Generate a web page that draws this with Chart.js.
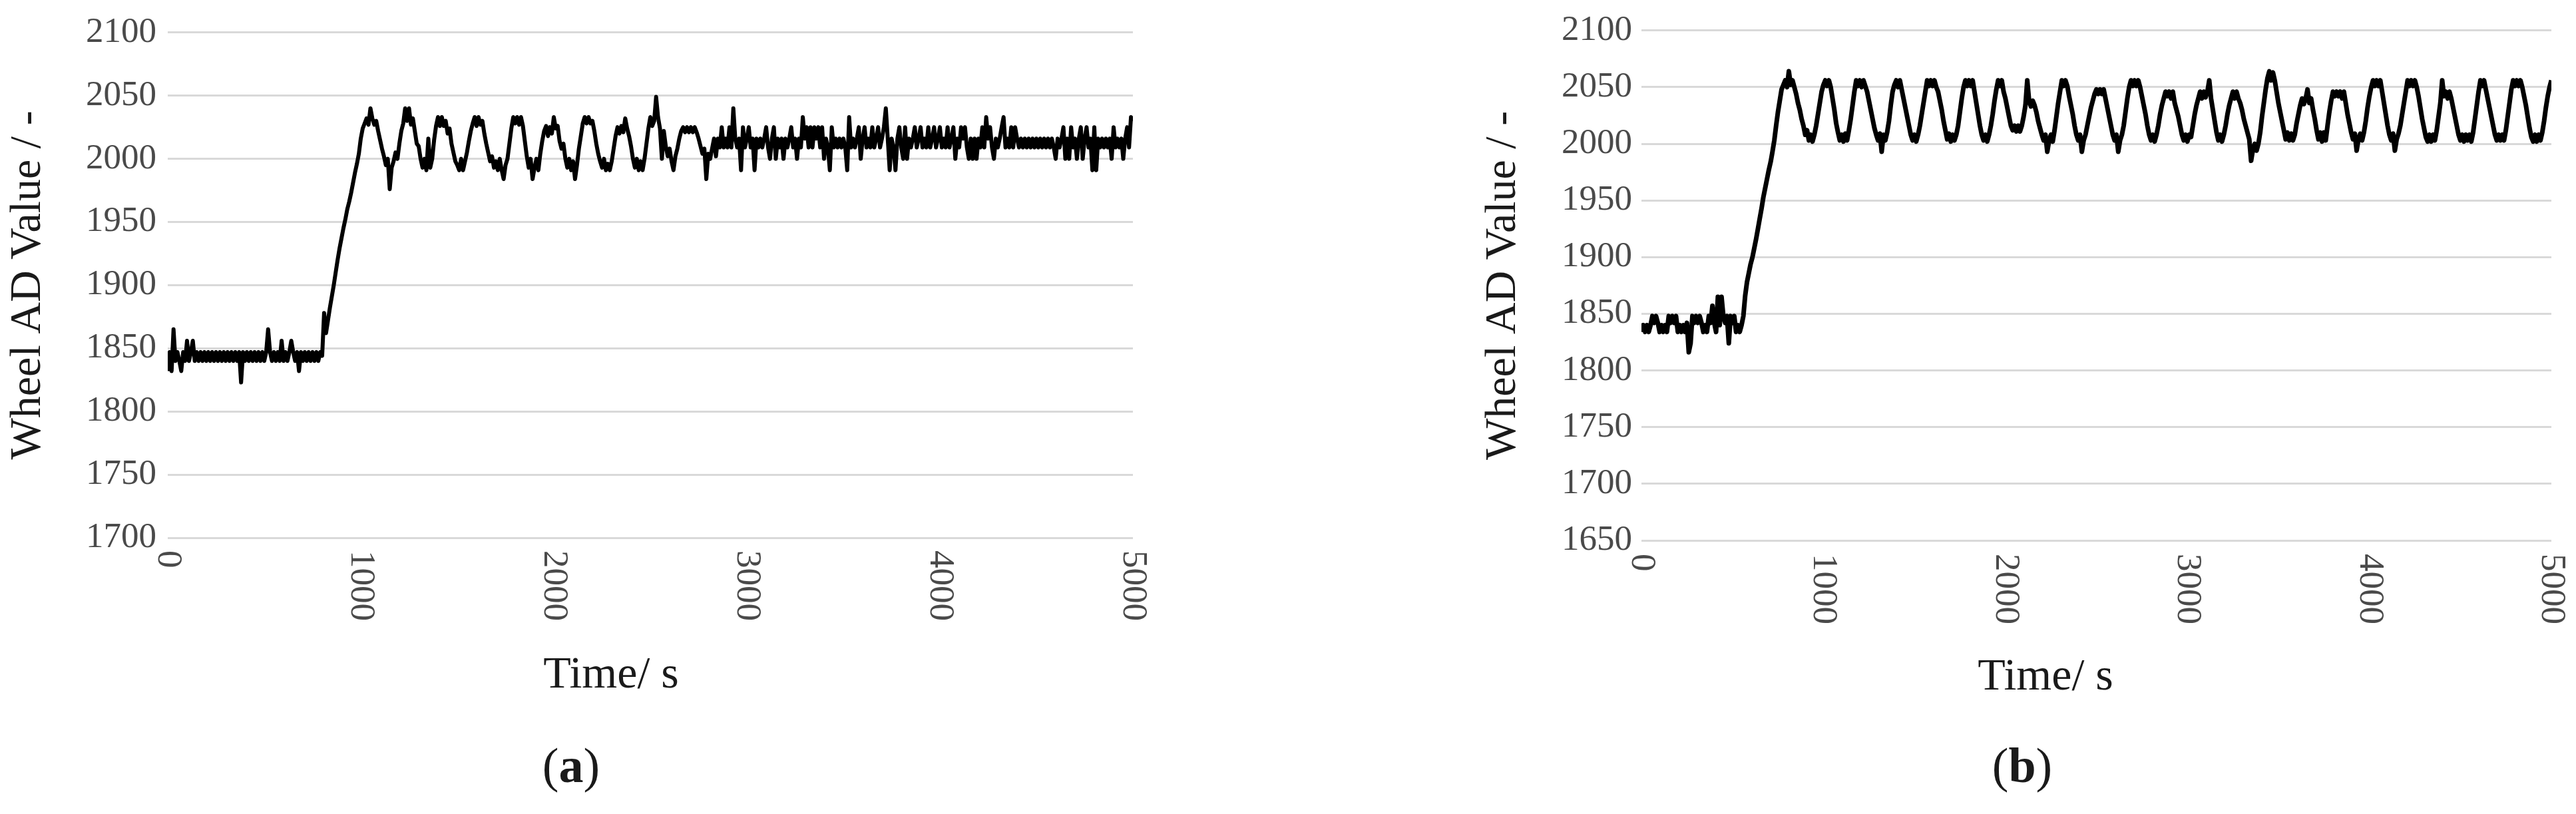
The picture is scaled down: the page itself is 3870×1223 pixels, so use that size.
<!DOCTYPE html>
<html>
<head>
<meta charset="utf-8">
<script src="https://cdn.jsdelivr.net/npm/chart.js@4.4.1/dist/chart.umd.min.js"></script>
<style>
  html, body { margin: 0; padding: 0; background: #fff; }
  body { width: 3870px; height: 1223px; position: relative; overflow: hidden; }
  .panel { position: absolute; top: 0; width: 1935px; height: 1223px; }
  #panelA { left: 0; }
  #panelB { left: 1935px; }
</style>
</head>
<body>
<div class="panel" id="panelA"><canvas id="chartA" width="1935" height="1223"></canvas></div>
<div class="panel" id="panelB"><canvas id="chartB" width="1935" height="1223"></canvas></div>
<script>
// logged wheel AD readings, one value every sampleStep seconds (0 .. 5000 s)
const sampleStep = 10;
const timeTicks = [0, 1000, 2000, 3000, 4000, 5000];
const adTicksA = [1700, 1750, 1800, 1850, 1900, 1950, 2000, 2050, 2100];
const adTicksB = [1650, 1700, 1750, 1800, 1850, 1900, 1950, 2000, 2050, 2100];

// (a)
const wheelA = [
  1832,1847,1832,1865,1840,1847,1840,1832,1847,1840,
  1856,1840,1847,1856,1840,1847,1840,1847,1840,1847,
  1840,1847,1840,1847,1840,1847,1840,1847,1840,1847,
  1840,1847,1840,1847,1840,1847,1840,1847,1823,1847,
  1840,1847,1840,1847,1840,1847,1840,1847,1840,1847,
  1840,1847,1865,1847,1840,1847,1840,1847,1840,1856,
  1840,1847,1840,1847,1856,1847,1840,1847,1832,1847,
  1840,1847,1840,1847,1840,1847,1840,1847,1840,1847,
  1844,1878,1862,1872,1882,1891,1900,1910,1920,1929,
  1937,1945,1952,1960,1966,1973,1981,1989,1996,2004,
  2016,2024,2028,2032,2027,2040,2032,2027,2030,2022,
  2015,2008,2002,1995,2000,1976,1993,1998,2005,2000,
  2012,2022,2028,2040,2030,2040,2027,2032,2022,2012,
  2010,2000,1993,2000,1991,2016,1993,2000,2015,2026,
  2033,2026,2033,2026,2030,2020,2024,2012,2005,1998,
  1995,1991,2000,1991,1998,2005,2014,2022,2028,2033,
  2026,2033,2027,2030,2020,2012,2005,1998,2002,1993,
  1998,1991,2000,1991,1984,1995,2000,2012,2024,2033,
  2028,2033,2027,2033,2026,2014,2002,1993,2000,1984,
  1993,2000,1991,2004,2014,2022,2026,2018,2025,2020,
  2033,2024,2026,2014,2008,2012,2000,1993,2000,1991,
  1998,1984,1995,2008,2018,2028,2033,2028,2033,2028,
  2030,2022,2012,2004,1998,1993,2000,1991,1996,1991,
  1998,2008,2018,2025,2020,2026,2021,2032,2024,2018,
  2010,2000,1993,2000,1991,1998,1991,2000,2012,2024,
  2033,2026,2030,2049,2033,2024,2000,2022,2010,2002,
  2008,1998,1991,2002,2008,2016,2022,2025,2021,2025,
  2021,2025,2021,2025,2021,2016,2010,2004,2008,1984,
  2004,2000,2008,2016,2002,2016,2009,2025,2009,2016,
  2009,2025,2009,2040,2016,2009,2016,1991,2025,2009,
  2016,2025,2009,2016,1991,2016,2009,2016,2009,2016,
  2025,2009,2000,2016,2025,2000,2016,2009,2016,2000,
  2016,2009,2016,2025,2009,2016,2000,2016,2009,2033,
  2016,2025,2009,2025,2009,2025,2016,2025,2009,2025,
  2000,2016,2009,1991,2025,2009,2016,2009,2016,2009,
  2016,2009,1991,2033,2009,2016,2009,2016,2025,2000,
  2016,2025,2009,2016,2009,2025,2009,2016,2025,2009,
  2016,2025,2040,2016,1991,2016,2009,1991,2016,2025,
  2009,2000,2025,2000,2016,2009,2016,2025,2009,2016,
  2025,2009,2016,2009,2025,2009,2016,2025,2009,2016,
  2025,2009,2016,2009,2025,2009,2016,2025,2000,2016,
  2009,2025,2016,2025,2009,2000,2016,2000,2016,2000,
  2016,2009,2025,2009,2033,2016,2025,2009,2000,2016,
  2009,2016,2025,2033,2009,2016,2009,2025,2009,2025,
  2016,2009,2016,2009,2016,2009,2016,2009,2016,2009,
  2016,2009,2016,2009,2016,2009,2016,2009,2016,2009,
  2000,2016,2009,2016,2025,2000,2016,2000,2025,2009,
  2016,2000,2016,2025,2000,2016,2025,2009,2016,1991,
  2025,1991,2016,2009,2016,2009,2016,2009,2016,2000,
  2025,2009,2016,2009,2016,2000,2016,2025,2009,2033,
  2030
];

// (b)
const wheelB = [
  1834,1840,1834,1840,1834,1840,1848,1842,1848,1842,
  1834,1840,1834,1840,1834,1848,1842,1848,1842,1848,
  1834,1840,1834,1840,1834,1842,1816,1824,1848,1842,
  1848,1842,1848,1842,1834,1840,1834,1848,1842,1857,
  1842,1834,1865,1840,1865,1848,1842,1848,1824,1848,
  1842,1848,1834,1840,1834,1840,1848,1866,1878,1886,
  1894,1900,1908,1916,1925,1934,1943,1953,1961,1969,
  1977,1984,1993,2003,2016,2028,2038,2048,2052,2056,
  2050,2064,2052,2056,2050,2044,2036,2030,2022,2016,
  2008,2012,2003,2008,2002,2008,2016,2026,2036,2046,
  2052,2056,2051,2056,2050,2040,2030,2018,2010,2003,
  2008,2002,2009,2003,2012,2022,2034,2046,2056,2051,
  2056,2050,2056,2051,2046,2038,2030,2022,2014,2008,
  2003,2009,1993,2008,2003,2010,2020,2034,2046,2052,
  2056,2050,2056,2048,2040,2032,2024,2016,2008,2003,
  2008,2002,2008,2016,2026,2036,2046,2056,2051,2056,
  2051,2056,2050,2046,2038,2030,2020,2012,2004,2009,
  2002,2008,2003,2008,2016,2028,2040,2050,2056,2051,
  2056,2051,2056,2046,2036,2026,2016,2008,2003,2008,
  2002,2008,2016,2026,2038,2048,2056,2051,2056,2046,
  2040,2032,2024,2016,2012,2016,2011,2016,2011,2016,
  2024,2034,2056,2038,2033,2038,2034,2028,2020,2014,
  2008,2003,2008,1993,2003,2008,2002,2012,2024,2036,
  2046,2056,2051,2056,2051,2042,2034,2026,2016,2008,
  2003,2008,1993,2003,2008,2016,2024,2032,2038,2044,
  2048,2044,2048,2044,2048,2040,2032,2024,2016,2008,
  2003,2008,1993,2003,2008,2016,2028,2040,2050,2056,
  2051,2056,2051,2056,2050,2042,2034,2026,2016,2008,
  2003,2008,2002,2008,2016,2026,2034,2040,2046,2042,
  2046,2040,2046,2036,2030,2024,2016,2008,2003,2008,
  2002,2008,2006,2016,2026,2034,2040,2046,2040,2046,
  2041,2046,2056,2040,2030,2020,2010,2003,2008,2002,
  2008,2016,2026,2034,2040,2046,2040,2046,2040,2036,
  2030,2022,2016,2010,2004,1985,1995,2000,1994,2000,
  2010,2024,2036,2048,2058,2064,2056,2063,2056,2046,
  2036,2028,2020,2012,2004,2010,2003,2009,2003,2008,
  2018,2026,2034,2040,2035,2040,2048,2036,2040,2030,
  2022,2012,2004,2010,2002,2010,2003,2016,2028,2038,
  2046,2042,2046,2042,2046,2040,2046,2036,2026,2018,
  2010,2004,2009,1994,2004,2009,2003,2010,2020,2032,
  2042,2050,2056,2051,2056,2051,2056,2046,2036,2026,
  2016,2008,2003,2009,1994,2004,2009,2016,2026,2036,
  2046,2056,2051,2056,2051,2056,2050,2042,2032,2022,
  2014,2006,2002,2008,2002,2008,2003,2012,2024,2036,
  2056,2042,2046,2040,2046,2040,2032,2024,2016,2008,
  2003,2008,2002,2008,2003,2008,2002,2010,2022,2034,
  2046,2056,2051,2056,2048,2040,2032,2024,2016,2008,
  2003,2008,2003,2008,2003,2012,2024,2036,2048,2056,
  2051,2056,2051,2056,2050,2042,2034,2024,2014,2006,
  2002,2008,2002,2008,2003,2010,2020,2032,2042,2050,
  2056
];

const serif = "'Liberation Serif', 'Times New Roman', serif";
const tickColor = '#4a4a4a';
const titleColor = '#1a1a1a';
Chart.defaults.font.family = serif;

const toPoints = vals => vals.map((v, i) => ({ x: i * sampleStep, y: v }));

// rotated time labels (reading downwards), x title and panel letter
const panelText = {
  id: 'panelText',
  afterDraw(chart, args, opts) {
    const { ctx, chartArea } = chart;
    const xs = chart.scales.x;
    ctx.save();
    ctx.fillStyle = tickColor;
    ctx.font = '53px ' + serif;
    ctx.textAlign = 'left';
    ctx.textBaseline = 'middle';
    timeTicks.forEach(t => {
      ctx.save();
      ctx.translate(xs.getPixelForValue(t), chartArea.bottom + opts.tickGap);
      ctx.rotate(Math.PI / 2);
      ctx.fillText(String(t), 0, 0);
      ctx.restore();
    });

    ctx.fillStyle = titleColor;
    ctx.font = '68px ' + serif;
    ctx.textAlign = 'center';
    ctx.textBaseline = 'alphabetic';
    ctx.fillText('Time/ s', opts.titleX, opts.titleY);

    // "(a)" with the letter in bold
    const parts = [['(', ''], [opts.letter, 'bold '], [')', '']];
    ctx.textAlign = 'left';
    let total = 0;
    parts.forEach(p => { ctx.font = p[1] + '74px ' + serif; total += ctx.measureText(p[0]).width; });
    let x = opts.capX - total / 2;
    parts.forEach(p => {
      ctx.font = p[1] + '74px ' + serif;
      ctx.fillText(p[0], x, opts.capY);
      x += ctx.measureText(p[0]).width;
    });
    ctx.restore();
  }
};

function makeChart(id, values, adTicks, cfg) {
  return new Chart(document.getElementById(id), {
    type: 'line',
    data: {
      datasets: [{
        data: toPoints(values),
        borderColor: '#000',
        borderWidth: cfg.lineWidth,
        borderJoinStyle: 'round',
        pointRadius: 0,
        tension: 0,
        fill: false
      }]
    },
    options: {
      responsive: false,
      animation: false,
      events: [],
      layout: { padding: cfg.padding },
      plugins: {
        legend: { display: false },
        tooltip: { enabled: false },
        panelText: cfg.text
      },
      scales: {
        x: {
          type: 'linear',
          min: 0,
          max: 5000,
          grid: { display: false, drawTicks: false },
          border: { display: false },
          ticks: { display: false },
          afterFit: s => { s.height = 0; }
        },
        y: {
          min: adTicks[0],
          max: adTicks[adTicks.length - 1],
          afterBuildTicks: s => { s.ticks = adTicks.map(v => ({ value: v })); },
          grid: { color: '#d9d9d9', lineWidth: 3, drawTicks: false },
          border: { display: false },
          ticks: {
            padding: cfg.tickPad,
            color: tickColor,
            font: { family: serif, size: 53 },
            callback: v => String(v)
          },
          title: {
            display: true,
            text: 'Wheel AD Value / -',
            color: titleColor,
            font: { family: serif, size: 66 },
            padding: { top: 3, bottom: 0 }
          },
          afterFit: s => { s.width = cfg.yWidth; }
        }
      }
    },
    plugins: [panelText]
  });
}

makeChart('chartA', wheelA, adTicksA, {
  lineWidth: 6,
  padding: { left: 0, top: 33, right: 233, bottom: 415 },
  yWidth: 252,
  tickPad: 17,
  text: { tickGap: 19, titleX: 918, titleY: 1033, capX: 858, capY: 1175, letter: 'a' }
});

makeChart('chartB', wheelB, adTicksB, {
  lineWidth: 7,
  padding: { left: 281, top: 38, right: 37, bottom: 411 },
  yWidth: 250,
  tickPad: 14,
  text: { tickGap: 20, titleX: 1138, titleY: 1036, capX: 1103, capY: 1175, letter: 'b' }
});
</script>
</body>
</html>
